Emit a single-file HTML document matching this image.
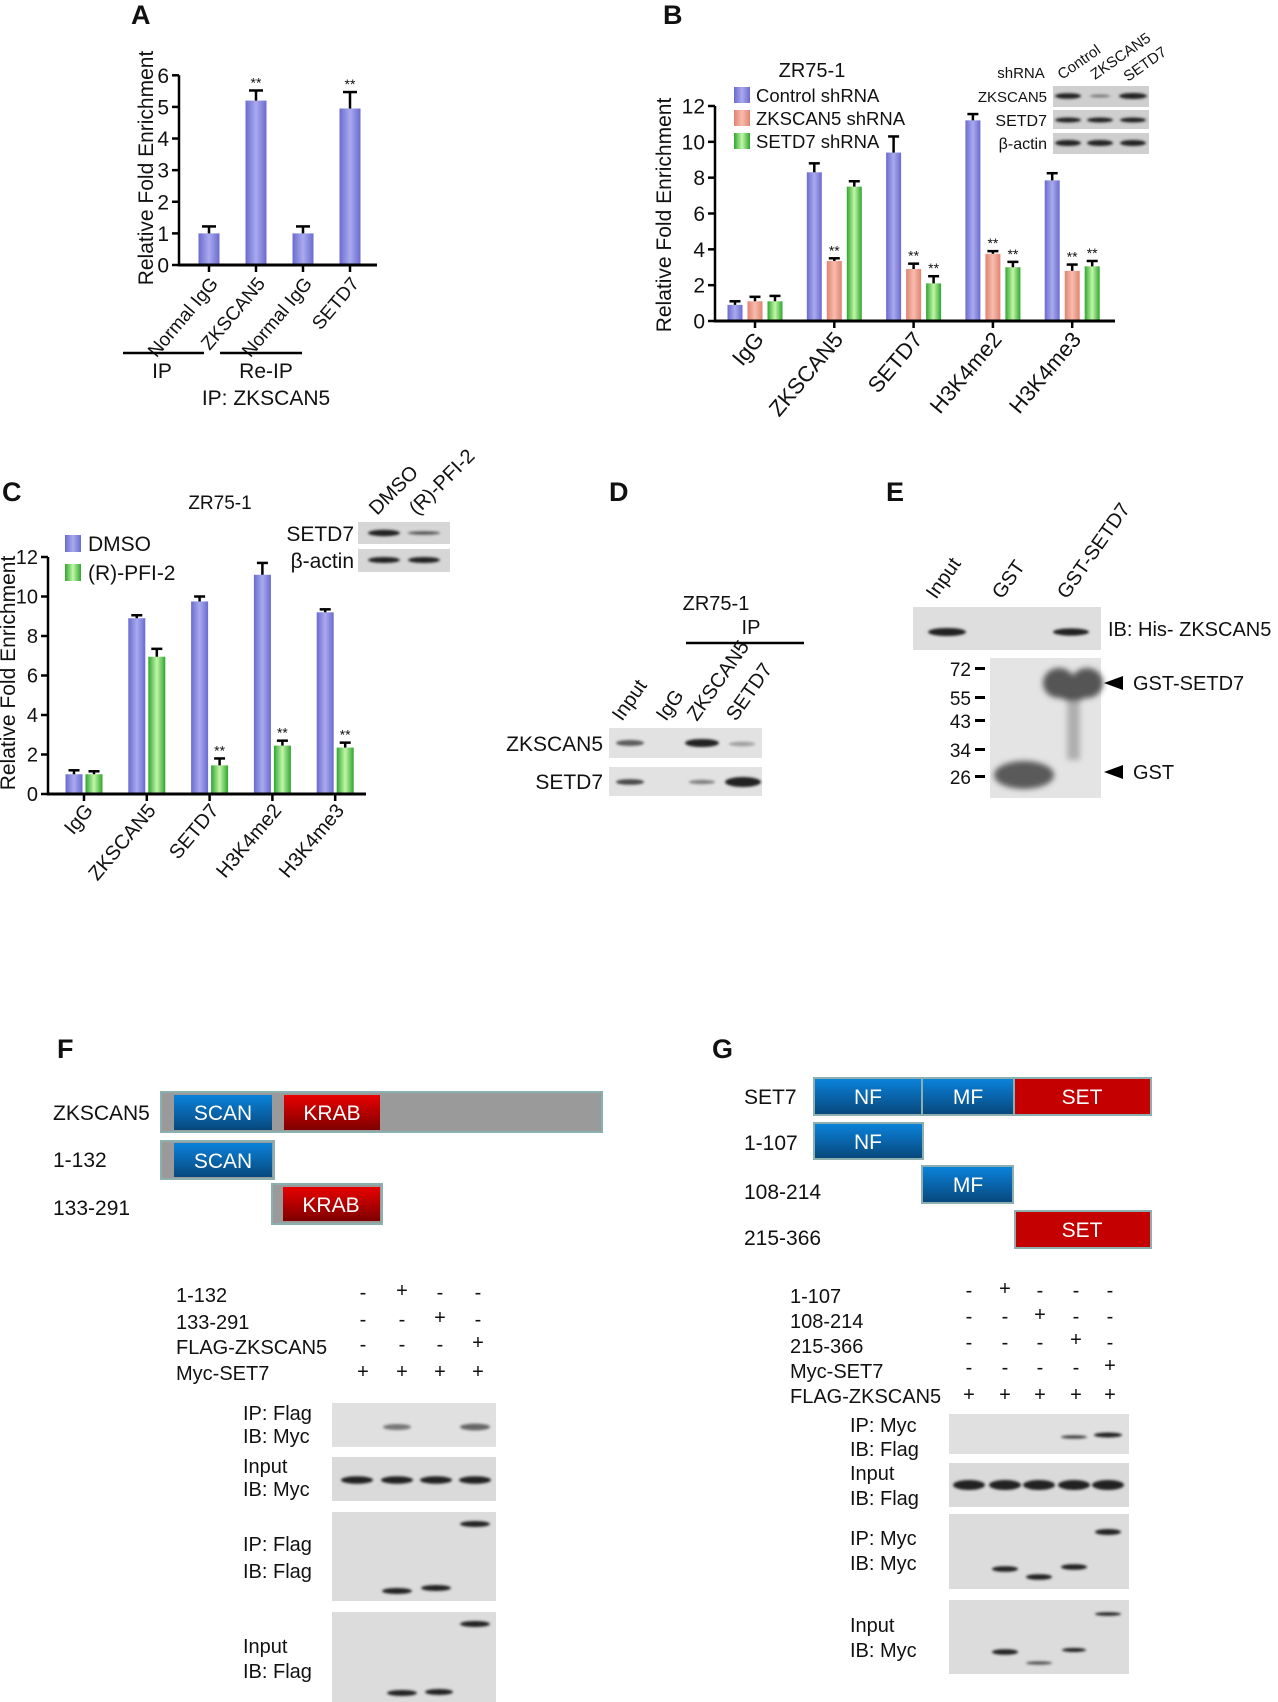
<!DOCTYPE html>
<html><head><meta charset="utf-8"><style>
html,body{margin:0;padding:0;background:#fff}
svg{display:block}
text{font-family:"Liberation Sans",Arial,sans-serif;fill:#111}
.pl{font-weight:bold;font-size:27px}
</style></head><body>
<svg id="fig" width="1278" height="1702" viewBox="0 0 1278 1702" xmlns="http://www.w3.org/2000/svg">
<defs>
<linearGradient id="gBlue" x1="0" x2="1" y1="0" y2="0"><stop offset="0" stop-color="#6a6bcf"/><stop offset="0.5" stop-color="#a9aaee"/><stop offset="1" stop-color="#6a6bcf"/></linearGradient>
<linearGradient id="gSal" x1="0" x2="1" y1="0" y2="0"><stop offset="0" stop-color="#e08370"/><stop offset="0.5" stop-color="#f8bcae"/><stop offset="1" stop-color="#e08370"/></linearGradient>
<linearGradient id="gGrn" x1="0" x2="1" y1="0" y2="0"><stop offset="0" stop-color="#2fa52f"/><stop offset="0.5" stop-color="#c2f7a8"/><stop offset="1" stop-color="#2fa52f"/></linearGradient>
<linearGradient id="dBlue" x1="0" x2="0" y1="0" y2="1"><stop offset="0" stop-color="#0a82da"/><stop offset="1" stop-color="#08487c"/></linearGradient>
<linearGradient id="dRed" x1="0" x2="0" y1="0" y2="1"><stop offset="0" stop-color="#e80000"/><stop offset="1" stop-color="#7e0000"/></linearGradient>
<filter id="blur" x="-20%" y="-100%" width="140%" height="300%"><feGaussianBlur stdDeviation="1.4"/></filter>
<filter id="blur2" x="-30%" y="-50%" width="160%" height="200%"><feGaussianBlur stdDeviation="3"/></filter>
</defs>

<text class="pl" x="131" y="24">A</text>
<text class="pl" x="663" y="24">B</text>
<text class="pl" x="2" y="501">C</text>
<text class="pl" x="609" y="501">D</text>
<text class="pl" x="886" y="501">E</text>
<text class="pl" x="57" y="1058">F</text>
<text class="pl" x="712" y="1058">G</text>

<g id="chartA"></g>
<g id="chartB"></g>
<g id="chartC"></g>

<g>
<line x1="123" y1="353" x2="204" y2="353" stroke="#000" stroke-width="2.5"/>
<line x1="220" y1="353" x2="302" y2="353" stroke="#000" stroke-width="2.5"/>
<text x="162" y="378" font-size="21" text-anchor="middle">IP</text>
<text x="266" y="378" font-size="21" text-anchor="middle">Re-IP</text>
<text x="266" y="405" font-size="21" text-anchor="middle">IP: ZKSCAN5</text>
</g>

<g>
<text x="812" y="77" font-size="20" text-anchor="middle">ZR75-1</text>
<rect x="734" y="87" width="16" height="16" fill="url(#gBlue)"/><text x="756" y="102" font-size="18.5">Control shRNA</text>
<rect x="734" y="110" width="16" height="16" fill="url(#gSal)"/><text x="756" y="125" font-size="18.5">ZKSCAN5 shRNA</text>
<rect x="734" y="133" width="16" height="16" fill="url(#gGrn)"/><text x="756" y="148" font-size="18.5">SETD7 shRNA</text>
</g>
<g>
<text x="1021" y="78" font-size="15" text-anchor="middle">shRNA</text>
<text transform="translate(1062,80) rotate(-35)" font-size="15">Control</text>
<text transform="translate(1095,80) rotate(-35)" font-size="15">ZKSCAN5</text>
<text transform="translate(1128,82) rotate(-35)" font-size="15">SETD7</text>
<text x="1047" y="102" font-size="15" text-anchor="end">ZKSCAN5</text>
<text x="1047" y="126" font-size="16" text-anchor="end">SETD7</text>
<text x="1047" y="149" font-size="16" text-anchor="end">β-actin</text>
<rect x="1053" y="86" width="96" height="21" fill="#cfcfcf"/>
<rect x="1053" y="110" width="96" height="19" fill="#cfcfcf"/>
<rect x="1053" y="133" width="96" height="21" fill="#cfcfcf"/>
<g filter="url(#blur)" fill="#222">
<ellipse cx="1068" cy="96" rx="13" ry="2.8"/><ellipse cx="1100" cy="96" rx="10" ry="1.5" opacity="0.5"/><ellipse cx="1133" cy="96" rx="14" ry="3"/>
<ellipse cx="1068" cy="120" rx="13" ry="2.5"/><ellipse cx="1100" cy="120" rx="13" ry="2.5"/><ellipse cx="1133" cy="120" rx="13" ry="2.5"/>
<ellipse cx="1068" cy="143" rx="13" ry="3"/><ellipse cx="1100" cy="143" rx="13" ry="3"/><ellipse cx="1133" cy="143" rx="13" ry="3"/>
</g></g>

<g>
<text x="220" y="509" font-size="19" text-anchor="middle">ZR75-1</text>
<rect x="65" y="535" width="16" height="17" fill="url(#gBlue)"/><text x="88" y="551" font-size="21">DMSO</text>
<rect x="65" y="564" width="16" height="17" fill="url(#gGrn)"/><text x="88" y="580" font-size="21">(R)-PFI-2</text>
</g>
<g>
<text transform="translate(377,516) rotate(-45)" font-size="20">DMSO</text>
<text transform="translate(417,516) rotate(-45)" font-size="20">(R)-PFI-2</text>
<text x="354" y="541" font-size="21" text-anchor="end">SETD7</text>
<text x="354" y="568" font-size="21" text-anchor="end">β-actin</text>
<rect x="358" y="522" width="92" height="22" fill="#d6d6d6"/>
<rect x="358" y="549" width="92" height="23" fill="#d6d6d6"/>
<g filter="url(#blur)" fill="#222">
<ellipse cx="384" cy="533" rx="16" ry="3.2"/><ellipse cx="424" cy="533" rx="16" ry="1.8" opacity="0.7"/>
<ellipse cx="384" cy="560" rx="16" ry="3"/><ellipse cx="424" cy="560" rx="16" ry="3"/>
</g></g>

<g>
<text x="716" y="610" font-size="20" text-anchor="middle">ZR75-1</text>
<text x="751" y="634" font-size="20" text-anchor="middle">IP</text>
<line x1="686" y1="643" x2="804" y2="643" stroke="#000" stroke-width="2.5"/>
<text transform="translate(622,722) rotate(-55)" font-size="20">Input</text>
<text transform="translate(666,722) rotate(-55)" font-size="20">IgG</text>
<text transform="translate(697,722) rotate(-55)" font-size="20">ZKSCAN5</text>
<text transform="translate(736,722) rotate(-55)" font-size="20">SETD7</text>
<text x="603" y="751" font-size="21" text-anchor="end">ZKSCAN5</text>
<text x="603" y="789" font-size="21" text-anchor="end">SETD7</text>
<rect x="609" y="728" width="153" height="30" fill="#e2e2e2"/>
<rect x="609" y="767" width="153" height="29" fill="#e2e2e2"/>
<g filter="url(#blur)" fill="#222">
<ellipse cx="630" cy="743" rx="14" ry="3" opacity="0.7"/><ellipse cx="702" cy="743" rx="17" ry="4"/><ellipse cx="742" cy="744" rx="13" ry="2.2" opacity="0.35"/>
<ellipse cx="630" cy="782" rx="14" ry="2.8" opacity="0.8"/><ellipse cx="702" cy="782" rx="13" ry="2.2" opacity="0.5"/><ellipse cx="743" cy="782" rx="18" ry="5"/>
</g></g>

<g>
<text transform="translate(936,600) rotate(-55)" font-size="20">Input</text>
<text transform="translate(1002,600) rotate(-55)" font-size="20">GST</text>
<text transform="translate(1067,600) rotate(-55)" font-size="20">GST-SETD7</text>
<rect x="913" y="607" width="188" height="43" fill="#dedede"/>
<g filter="url(#blur)" fill="#222"><ellipse cx="947" cy="632" rx="19" ry="4"/><ellipse cx="1071" cy="632" rx="18" ry="3.6"/></g>
<text x="1108" y="636" font-size="20">IB: His- ZKSCAN5</text>
<rect x="990" y="658" width="111" height="140" fill="#e4e4e4"/>
<g filter="url(#blur2)">
<rect x="1067" y="690" width="13" height="70" fill="#999" opacity="0.7"/>
<ellipse cx="1059" cy="683" rx="16" ry="15" fill="#555"/><ellipse cx="1087" cy="683" rx="16" ry="15" fill="#555"/>
<ellipse cx="1073" cy="692" rx="16" ry="9" fill="#555"/>
<ellipse cx="1024" cy="775" rx="30" ry="14" fill="#5a5a5a"/>
</g>
<g font-size="19" text-anchor="end">
<text x="971" y="676">72</text><text x="971" y="705">55</text><text x="971" y="728">43</text><text x="971" y="757">34</text><text x="971" y="784">26</text>
</g>
<g fill="#000"><rect x="975" y="667" width="10" height="3"/><rect x="975" y="696" width="10" height="3"/><rect x="975" y="719" width="10" height="3"/><rect x="975" y="748" width="10" height="3"/><rect x="975" y="775" width="10" height="3"/></g>
<polygon points="1104,683 1123,676 1123,690" fill="#000"/>
<polygon points="1104,772 1123,765 1123,779" fill="#000"/>
<text x="1133" y="690" font-size="20">GST-SETD7</text>
<text x="1133" y="779" font-size="20">GST</text>
</g>

<g font-size="21">
<text x="53" y="1120">ZKSCAN5</text><text x="53" y="1167">1-132</text><text x="53" y="1215">133-291</text>
<rect x="161" y="1092" width="441" height="40" fill="#9a9a9a" stroke="#8cb0b0" stroke-width="2"/>
<rect x="174" y="1095" width="98" height="35" fill="url(#dBlue)"/><text x="223" y="1120" text-anchor="middle" style="fill:#fff">SCAN</text>
<rect x="284" y="1095" width="96" height="35" fill="url(#dRed)"/><text x="332" y="1120" text-anchor="middle" style="fill:#fff">KRAB</text>
<rect x="161" y="1141" width="113" height="38" fill="#9a9a9a" stroke="#8cb0b0" stroke-width="2"/>
<rect x="174" y="1143" width="98" height="34" fill="url(#dBlue)"/><text x="223" y="1168" text-anchor="middle" style="fill:#fff">SCAN</text>
<rect x="272" y="1184" width="110" height="40" fill="#9a9a9a" stroke="#8cb0b0" stroke-width="2"/>
<rect x="283" y="1187" width="97" height="34" fill="url(#dRed)"/><text x="331" y="1212" text-anchor="middle" style="fill:#fff">KRAB</text>
</g>
<g font-size="20">
<text x="176" y="1302">1-132</text><text x="176" y="1329">133-291</text><text x="176" y="1354">FLAG-ZKSCAN5</text><text x="176" y="1380">Myc-SET7</text>
<g text-anchor="middle">
<text x="363" y="1299">-</text><text x="402" y="1297">+</text><text x="440" y="1299">-</text><text x="478" y="1299">-</text>
<text x="363" y="1326">-</text><text x="402" y="1326">-</text><text x="440" y="1324">+</text><text x="478" y="1326">-</text>
<text x="363" y="1351">-</text><text x="402" y="1351">-</text><text x="440" y="1351">-</text><text x="478" y="1349">+</text>
<text x="363" y="1378">+</text><text x="402" y="1378">+</text><text x="440" y="1378">+</text><text x="478" y="1378">+</text>
</g></g>
<g font-size="20">
<text x="243" y="1420">IP: Flag</text><text x="243" y="1443">IB: Myc</text>
<text x="243" y="1473">Input</text><text x="243" y="1496">IB: Myc</text>
<text x="243" y="1551">IP: Flag</text><text x="243" y="1578">IB: Flag</text>
<text x="243" y="1653">Input</text><text x="243" y="1678">IB: Flag</text>
<rect x="332" y="1403" width="164" height="44" fill="#e0e0e0"/>
<rect x="332" y="1457" width="164" height="44" fill="#dadada"/>
<rect x="332" y="1512" width="164" height="89" fill="#dcdcdc"/>
<rect x="332" y="1612" width="164" height="90" fill="#dcdcdc"/>
<g filter="url(#blur)" fill="#222">
<ellipse cx="397" cy="1427" rx="14" ry="3" opacity="0.55"/><ellipse cx="475" cy="1427" rx="15" ry="3.4" opacity="0.65"/>
<ellipse cx="357" cy="1480" rx="16" ry="3.8"/><ellipse cx="397" cy="1480" rx="16" ry="3.8"/><ellipse cx="436" cy="1480" rx="16" ry="3.8"/><ellipse cx="475" cy="1480" rx="16" ry="3.8"/>
<ellipse cx="475" cy="1524" rx="15" ry="3"/><ellipse cx="397" cy="1591" rx="15" ry="3"/><ellipse cx="436" cy="1588" rx="15" ry="3"/>
<ellipse cx="475" cy="1624" rx="15" ry="3"/><ellipse cx="402" cy="1693" rx="15" ry="3"/><ellipse cx="439" cy="1692" rx="14" ry="3"/>
</g></g>

<g font-size="21">
<text x="744" y="1104">SET7</text><text x="744" y="1150">1-107</text><text x="744" y="1199">108-214</text><text x="744" y="1245">215-366</text>
<rect x="813" y="1077" width="339" height="39" fill="#8cb0b0"/>
<rect x="815" y="1079" width="106" height="35" fill="url(#dBlue)"/><text x="868" y="1104" text-anchor="middle" style="fill:#fff">NF</text>
<rect x="923" y="1079" width="90" height="35" fill="url(#dBlue)"/><text x="968" y="1104" text-anchor="middle" style="fill:#fff">MF</text>
<rect x="1015" y="1079" width="135" height="35" fill="#c40000"/><text x="1082" y="1104" text-anchor="middle" style="fill:#fff">SET</text>
<rect x="813" y="1122" width="111" height="38" fill="#8cb0b0"/>
<rect x="815" y="1124" width="107" height="34" fill="url(#dBlue)"/><text x="868" y="1149" text-anchor="middle" style="fill:#fff">NF</text>
<rect x="921" y="1165" width="93" height="39" fill="#8cb0b0"/>
<rect x="923" y="1167" width="89" height="35" fill="url(#dBlue)"/><text x="968" y="1192" text-anchor="middle" style="fill:#fff">MF</text>
<rect x="1014" y="1210" width="138" height="39" fill="#8cb0b0"/>
<rect x="1016" y="1212" width="134" height="35" fill="#c40000"/><text x="1082" y="1237" text-anchor="middle" style="fill:#fff">SET</text>
</g>
<g font-size="20">
<text x="790" y="1303">1-107</text><text x="790" y="1328">108-214</text><text x="790" y="1353">215-366</text><text x="790" y="1378">Myc-SET7</text><text x="790" y="1403">FLAG-ZKSCAN5</text>
<g text-anchor="middle">
<text x="969" y="1297">-</text><text x="1005" y="1295">+</text><text x="1040" y="1297">-</text><text x="1076" y="1297">-</text><text x="1110" y="1297">-</text>
<text x="969" y="1323">-</text><text x="1005" y="1323">-</text><text x="1040" y="1321">+</text><text x="1076" y="1323">-</text><text x="1110" y="1323">-</text>
<text x="969" y="1349">-</text><text x="1005" y="1349">-</text><text x="1040" y="1349">-</text><text x="1076" y="1346">+</text><text x="1110" y="1349">-</text>
<text x="969" y="1374">-</text><text x="1005" y="1374">-</text><text x="1040" y="1374">-</text><text x="1076" y="1374">-</text><text x="1110" y="1372">+</text>
<text x="969" y="1401">+</text><text x="1005" y="1401">+</text><text x="1040" y="1401">+</text><text x="1076" y="1401">+</text><text x="1110" y="1401">+</text>
</g></g>
<g font-size="20">
<text x="850" y="1432">IP: Myc</text><text x="850" y="1456">IB: Flag</text>
<text x="850" y="1480">Input</text><text x="850" y="1505">IB: Flag</text>
<text x="850" y="1545">IP: Myc</text><text x="850" y="1570">IB: Myc</text>
<text x="850" y="1632">Input</text><text x="850" y="1657">IB: Myc</text>
<rect x="949" y="1414" width="180" height="40" fill="#e0e0e0"/>
<rect x="949" y="1463" width="180" height="44" fill="#dadada"/>
<rect x="949" y="1514" width="180" height="75" fill="#dcdcdc"/>
<rect x="949" y="1600" width="180" height="74" fill="#dcdcdc"/>
<g filter="url(#blur)" fill="#222">
<ellipse cx="1074" cy="1437" rx="13" ry="1.8" opacity="0.8"/><ellipse cx="1108" cy="1435" rx="14" ry="2.5"/>
<ellipse cx="969" cy="1485" rx="16" ry="5"/><ellipse cx="1005" cy="1485" rx="16" ry="5"/><ellipse cx="1039" cy="1485" rx="16" ry="5"/><ellipse cx="1074" cy="1485" rx="16" ry="5"/><ellipse cx="1108" cy="1485" rx="16" ry="5"/>
<ellipse cx="1108" cy="1532" rx="13" ry="3"/><ellipse cx="1005" cy="1569" rx="13" ry="2.8"/><ellipse cx="1039" cy="1577" rx="13" ry="2.8"/><ellipse cx="1074" cy="1567" rx="13" ry="2.8"/>
<ellipse cx="1108" cy="1614" rx="13" ry="1.8"/><ellipse cx="1005" cy="1652" rx="13" ry="2.8"/><ellipse cx="1039" cy="1663" rx="13" ry="1.8" opacity="0.7"/><ellipse cx="1074" cy="1650" rx="12" ry="2"/>
</g></g>
</svg>

<script>
// ---- Panel A data ----
const aCats = ["Normal IgG", "ZKSCAN5", "Normal IgG", "SETD7"];
const aVals = [1.0, 5.2, 1.0, 4.95];
const aErr = [0.22, 0.32, 0.22, 0.52];
const aSig = ["", "**", "", "**"];
const aTicks = [0, 1, 2, 3, 4, 5, 6];

// ---- Panel B data ----
const bCats = ["IgG", "ZKSCAN5", "SETD7", "H3K4me2", "H3K4me3"];
const bControl = [0.9, 8.3, 9.4, 11.2, 7.85];
const bControlErr = [0.2, 0.5, 0.9, 0.35, 0.4];
const bZk = [1.1, 3.35, 2.9, 3.75, 2.8];
const bZkErr = [0.25, 0.15, 0.3, 0.15, 0.35];
const bSetd7 = [1.1, 7.5, 2.1, 3.0, 3.05];
const bSetd7Err = [0.3, 0.3, 0.4, 0.3, 0.3];
const bZkSig = ["", "**", "**", "**", "**"];
const bSetd7Sig = ["", "", "**", "**", "**"];
const bTicks = [0, 2, 4, 6, 8, 10, 12];

// ---- Panel C data ----
const cCats = ["IgG", "ZKSCAN5", "SETD7", "H3K4me2", "H3K4me3"];
const cDmso = [1.0, 8.9, 9.75, 11.1, 9.2];
const cDmsoErr = [0.2, 0.15, 0.25, 0.6, 0.15];
const cPfi = [1.0, 6.95, 1.45, 2.45, 2.35];
const cPfiErr = [0.15, 0.4, 0.35, 0.25, 0.25];
const cPfiSig = ["", "", "**", "**", "**"];
const cTicks = [0, 2, 4, 6, 8, 10, 12];

const NS = "http://www.w3.org/2000/svg";
function mk(tag, parent) { const e = document.createElementNS(NS, tag); parent.appendChild(e); return e; }

function drawChart(cfg) {
  const g = document.getElementById(cfg.id);
  const yS = v => cfg.y0 - (v / cfg.max) * (cfg.y0 - cfg.yTop);
  const xS = i => cfg.first + i * cfg.step;
  const ya = mk("line", g);
  
  
  ya.setAttribute("x1", cfg.x0); ya.setAttribute("x2", cfg.x0);
  ya.setAttribute("y1", cfg.y0 + 1.5); ya.setAttribute("y2", yS(cfg.max));
  ya.setAttribute("stroke", "#000"); ya.setAttribute("stroke-width", "2.5");
  cfg.ticks.forEach(t => {
    const tk = mk("line", g);
    
    
    tk.setAttribute("x1", cfg.x0 - 7); tk.setAttribute("x2", cfg.x0);
    tk.setAttribute("y1", yS(t)); tk.setAttribute("y2", yS(t));
    tk.setAttribute("stroke", "#000"); tk.setAttribute("stroke-width", "2.5");
    const tl = mk("text", g);
    
    
    tl.setAttribute("x", cfg.x0 - 10); tl.setAttribute("y", yS(t) + cfg.fs * 0.36);
    tl.setAttribute("text-anchor", "end"); tl.setAttribute("font-size", cfg.fs);
    tl.textContent = t;
  });
  const xa = mk("line", g);
  
  
  xa.setAttribute("x1", cfg.x0 - 1); xa.setAttribute("x2", cfg.xEnd);
  xa.setAttribute("y1", cfg.y0); xa.setAttribute("y2", cfg.y0);
  xa.setAttribute("stroke", "#000"); xa.setAttribute("stroke-width", "3");
  const yt = mk("text", g);
  
  
  yt.setAttribute("transform", "translate(" + cfg.ytX + "," + cfg.ytY + ") rotate(-90)");
  yt.setAttribute("text-anchor", "middle"); yt.setAttribute("font-size", cfg.ytFs);
  yt.textContent = "Relative Fold Enrichment";
  cfg.series.forEach(s => {
    s.vals.forEach((v, i) => {
      const cx = xS(i) + s.off;
      const r = mk("rect", g);
      
      
      r.setAttribute("x", cx - cfg.bw / 2); r.setAttribute("y", yS(v));
      r.setAttribute("width", cfg.bw); r.setAttribute("height", cfg.y0 - yS(v) - 1.5);
      r.setAttribute("fill", s.fill);
      const top = yS(v + s.errs[i]);
      const el = mk("line", g);
      
      
      el.setAttribute("x1", cx); el.setAttribute("x2", cx);
      el.setAttribute("y1", yS(v)); el.setAttribute("y2", top);
      el.setAttribute("stroke", "#000"); el.setAttribute("stroke-width", "2.5");
      const cap = mk("line", g);
      
      
      cap.setAttribute("x1", cx - cfg.cap / 2); cap.setAttribute("x2", cx + cfg.cap / 2);
      cap.setAttribute("y1", top); cap.setAttribute("y2", top);
      cap.setAttribute("stroke", "#000"); cap.setAttribute("stroke-width", "2.5");
      if (s.sig && s.sig[i]) {
        const st = mk("text", g);
        
        
        st.setAttribute("x", cx); st.setAttribute("y", top - 3);
        st.setAttribute("text-anchor", "middle"); st.setAttribute("font-size", "14");
        st.textContent = s.sig[i];
      }
    });
  });
  cfg.cats.forEach((c, i) => {
    const tk = mk("line", g);
    
    
    tk.setAttribute("x1", xS(i)); tk.setAttribute("x2", xS(i));
    tk.setAttribute("y1", cfg.y0); tk.setAttribute("y2", cfg.y0 + 7);
    tk.setAttribute("stroke", "#000"); tk.setAttribute("stroke-width", "2.5");
    const tl = mk("text", g);
    
    
    tl.setAttribute("transform", "translate(" + (xS(i) + cfg.ldx) + "," + (cfg.y0 + cfg.ldy) + ") rotate(" + cfg.rot + ")");
    tl.setAttribute("text-anchor", "end"); tl.setAttribute("font-size", cfg.xfs);
    tl.textContent = c;
  });
}

drawChart({id: "chartA", x0: 179, y0: 265, yTop: 75.3, max: 6, xEnd: 377, first: 209, step: 47,
  bw: 21, cap: 14, fs: 21, xfs: 19, ticks: aTicks, cats: aCats, rot: -50, ldx: 10, ldy: 19,
  ytX: 153, ytY: 168, ytFs: 21,
  series: [{name: "a", vals: aVals, errs: aErr, sig: aSig, fill: "url(#gBlue)", off: 0}]});

drawChart({id: "chartB", x0: 715, y0: 321, yTop: 106, max: 12, xEnd: 1115, first: 755, step: 79.3,
  bw: 15, cap: 11, fs: 21, xfs: 22, ticks: bTicks, cats: bCats, rot: -50, ldx: 10, ldy: 19,
  ytX: 671, ytY: 215, ytFs: 21,
  series: [
    {name: "control", vals: bControl, errs: bControlErr, sig: null, fill: "url(#gBlue)", off: -20},
    {name: "zkscan5", vals: bZk, errs: bZkErr, sig: bZkSig, fill: "url(#gSal)", off: 0},
    {name: "setd7", vals: bSetd7, errs: bSetd7Err, sig: bSetd7Sig, fill: "url(#gGrn)", off: 20}]});

drawChart({id: "chartC", x0: 48, y0: 794, yTop: 557, max: 12, xEnd: 366, first: 84, step: 62.8,
  bw: 17, cap: 11, fs: 20, xfs: 20, ticks: cTicks, cats: cCats, rot: -50, ldx: 10, ldy: 17,
  ytX: 15, ytY: 673, ytFs: 21,
  series: [
    {name: "dmso", vals: cDmso, errs: cDmsoErr, sig: null, fill: "url(#gBlue)", off: -10},
    {name: "pfi2", vals: cPfi, errs: cPfiErr, sig: cPfiSig, fill: "url(#gGrn)", off: 10}]});
</script>
</body></html>
